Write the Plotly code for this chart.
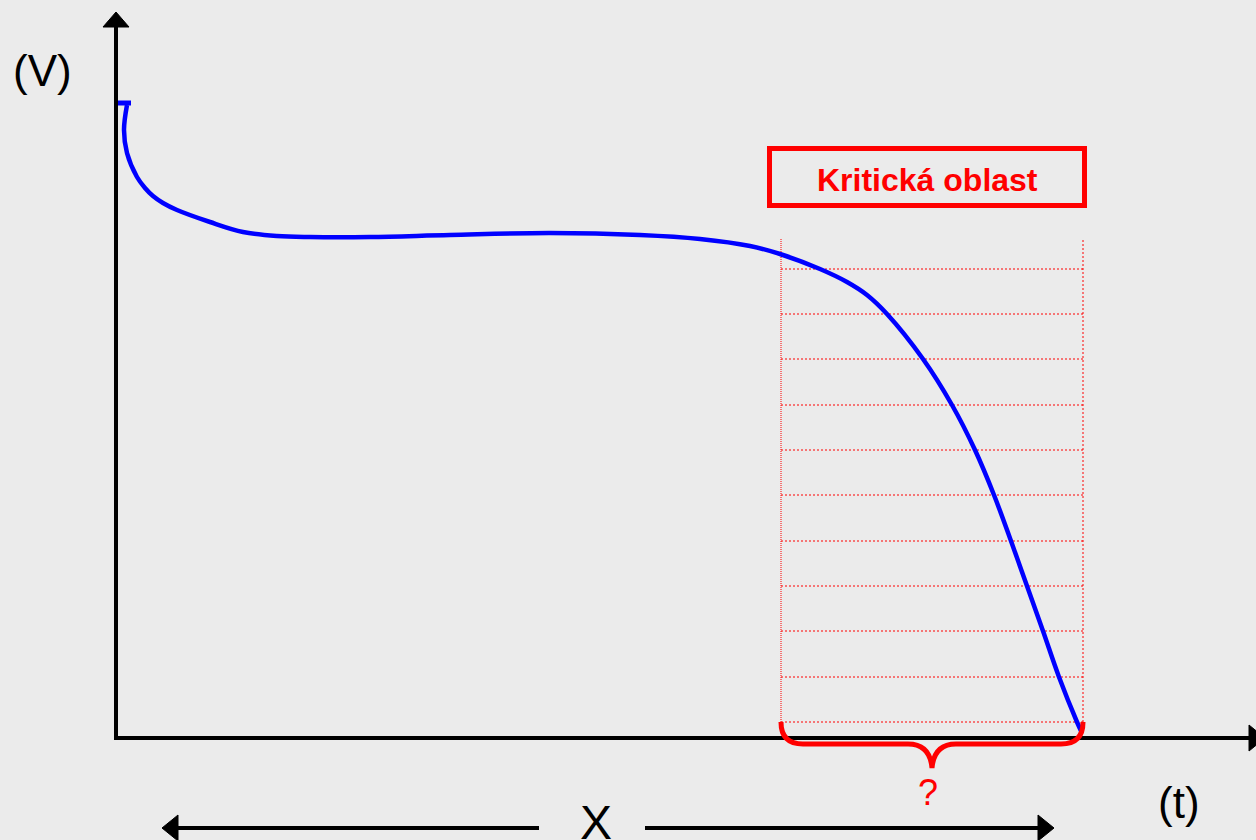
import plotly.graph_objects as go

# ---- data (t: time units, V: voltage units, origin at axis crossing) ----
curve_t = [10, 7, 10, 20, 28, 36, 46, 60, 93, 126, 160, 193, 253, 333, 433, 523, 583, 633, 663,
           703, 730, 750, 770, 806, 835, 858, 877, 894, 910, 926, 942, 960, 965]
curve_v = [633, 608, 585, 561, 550, 542, 535, 528, 516, 506, 502, 501, 501, 503, 505, 503, 499, 492, 484,
           469, 456, 443, 424, 379, 333, 288, 243, 197, 152, 107, 61, 16, 5]
cap_t = [0, 14]
cap_v = [635, 635]

crit_start, crit_end = 664, 966
crit_top = 500
grid_levels = [469, 424, 379, 333, 288, 243, 197, 152, 107, 61, 16]

box_label = "Kritická oblast"
y_label = "(V)"
x_label = "(t)"
span_label = "X"
question = "?"

RED = "#FF0000"
BLUE = "#0000FF"
BLACK = "#000000"
BG = "#EBEBEB"
FONT = "Liberation Sans, Arial, sans-serif"

fig = go.Figure()

# red dotted grid of the critical region
gx, gy = [], []
for lv in grid_levels:
    gx += [crit_start, crit_end, None]
    gy += [lv, lv, None]
fig.add_trace(go.Scatter(x=gx, y=gy, mode="lines",
                         line=dict(color=RED, width=1, dash="2px,2px"),
                         hoverinfo="skip", showlegend=False))
fig.add_trace(go.Scatter(x=[crit_start, crit_start], y=[grid_levels[-1], crit_top],
                         mode="lines", line=dict(color=RED, width=1, dash="1px,1px"),
                         hoverinfo="skip", showlegend=False))
fig.add_trace(go.Scatter(x=[crit_end, crit_end], y=[grid_levels[-1], crit_top],
                         mode="lines", line=dict(color=RED, width=1, dash="2px,2px"),
                         hoverinfo="skip", showlegend=False))

# discharge curve
fig.add_trace(go.Scatter(x=curve_t, y=curve_v, mode="lines",
                         line=dict(color=BLUE, width=4.5, shape="spline", smoothing=1.0),
                         hoverinfo="skip", showlegend=False))
fig.add_trace(go.Scatter(x=cap_t, y=cap_v, mode="lines",
                         line=dict(color=BLUE, width=5),
                         hoverinfo="skip", showlegend=False))

shapes = []
# axes
shapes.append(dict(type="line", x0=-1, y0=0, x1=-1, y1=712, line=dict(color=BLACK, width=4)))
shapes.append(dict(type="path", path="M -1 726 L -14 711 L 12 711 Z",
                   fillcolor=BLACK, line=dict(color=BLACK, width=1)))
shapes.append(dict(type="line", x0=-3, y0=0, x1=1133, y1=0, line=dict(color=BLACK, width=4)))
shapes.append(dict(type="path", path="M 1148 0 L 1132 13 L 1132 -13 Z",
                   fillcolor=BLACK, line=dict(color=BLACK, width=1)))

# bottom double arrow
shapes.append(dict(type="line", x0=60, y0=-90, x1=422, y1=-90, line=dict(color=BLACK, width=4)))
shapes.append(dict(type="line", x0=528, y0=-90, x1=923, y1=-90, line=dict(color=BLACK, width=4)))
shapes.append(dict(type="path", path="M 45 -90 L 61 -77 L 61 -103 Z",
                   fillcolor=BLACK, line=dict(color=BLACK, width=1)))
shapes.append(dict(type="path", path="M 937 -90 L 921 -77 L 921 -103 Z",
                   fillcolor=BLACK, line=dict(color=BLACK, width=1)))

# brace
shapes.append(dict(type="path",
                   path=("M 664 16 Q 664 -6 686 -6 L 791 -6 Q 813 -6 815 -30 "
                         "Q 817 -6 839 -6 L 944 -6 Q 966 -6 966 16"),
                   line=dict(color=RED, width=5)))

# label box
shapes.append(dict(type="rect", x0=652.5, y0=532.5, x1=967.5, y1=589.5,
                   line=dict(color=RED, width=5), fillcolor="rgba(0,0,0,0)"))

fig.update_layout(shapes=shapes)

ann = [
    dict(x=810, y=558, text=f"<b>{box_label}</b>", font=dict(family=FONT, size=32, color=RED)),
    dict(x=-75, y=668, text=y_label, font=dict(family=FONT, size=44, color=BLACK)),
    dict(x=1062, y=-64, text=x_label, font=dict(family=FONT, size=44, color=BLACK)),
    dict(x=811, y=-54, text=question, font=dict(family=FONT, size=36, color=RED)),
    dict(x=479, y=-84, text=span_label, font=dict(family=FONT, size=48, color=BLACK)),
]
for a in ann:
    a.update(xref="x", yref="y", showarrow=False, xanchor="center", yanchor="middle")
fig.update_layout(annotations=ann)

fig.update_layout(
    width=1256, height=840, autosize=False,
    margin=dict(l=0, r=0, t=0, b=0, pad=0),
    paper_bgcolor=BG, plot_bgcolor=BG,
    xaxis=dict(range=[-117, 1139], visible=False, fixedrange=True),
    yaxis=dict(range=[-102, 738], visible=False, fixedrange=True),
    showlegend=False,
)

fig.write_html("out.html",
               config={"displayModeBar": False, "staticPlot": True},
               post_script="document.body.style.margin='0';"
                           "document.body.style.overflow='hidden';"
                           "document.documentElement.style.overflow='hidden';"
                           "document.body.style.background='#EBEBEB';"
                           "document.documentElement.style.background='#EBEBEB';")
